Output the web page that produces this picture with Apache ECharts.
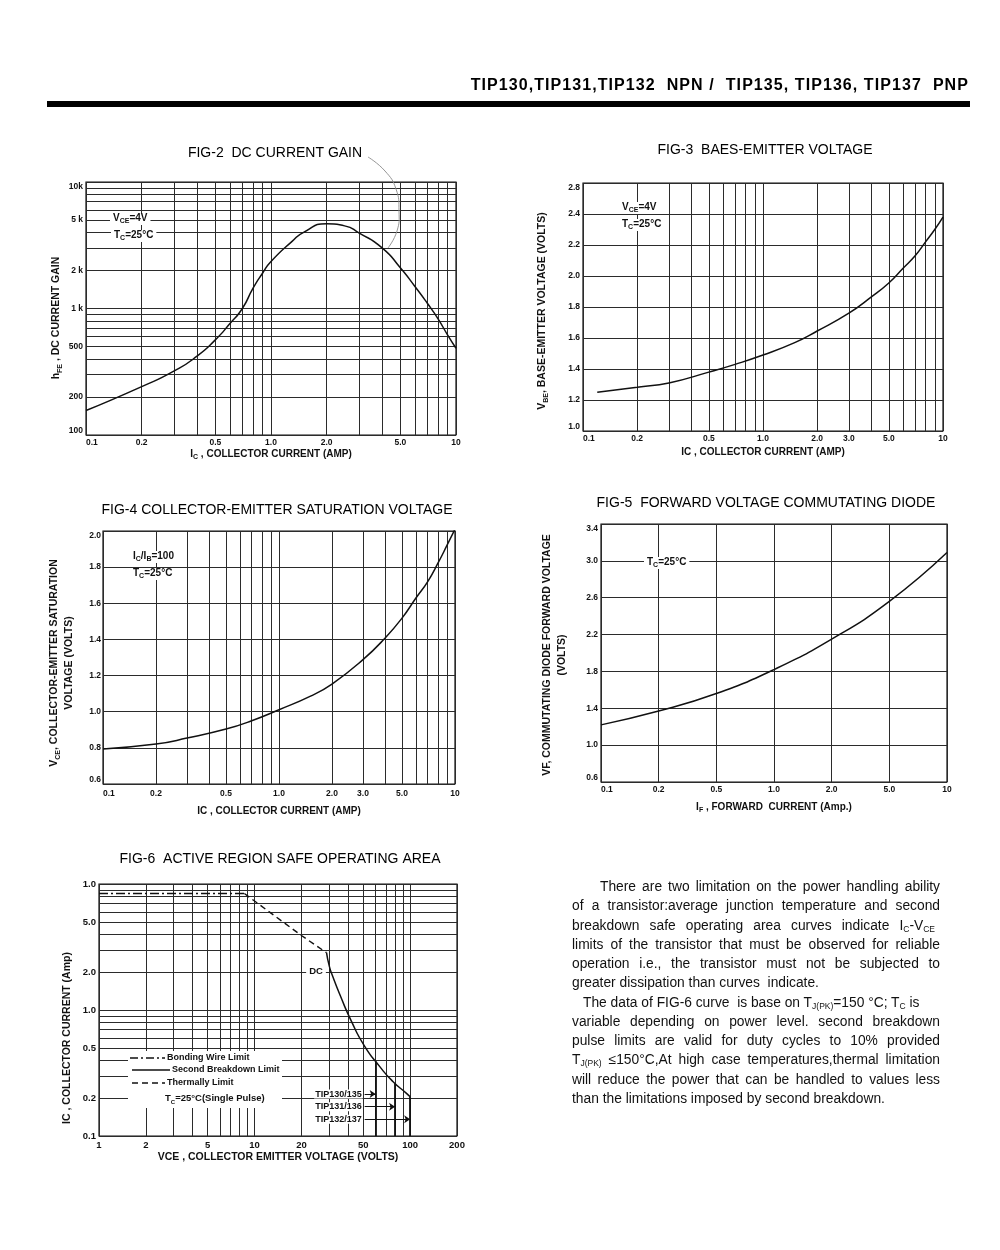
<!DOCTYPE html>
<html>
<head>
<meta charset="utf-8">
<script src="https://cdn.jsdelivr.net/npm/echarts@6/dist/echarts.min.js"></script>
<style>
html,body{margin:0;padding:0;background:#fff;}
#wrap{position:relative;width:1000px;height:1250px;overflow:hidden;background:#fff;}
#chart{position:absolute;left:0;top:0;width:1000px;height:1250px;}
#hdr{position:absolute;right:31px;top:75px;font:bold 16px 'Liberation Sans',Arial,sans-serif;letter-spacing:1.07px;white-space:pre;color:#000;line-height:20px;}
#bar{position:absolute;left:47px;top:101px;width:923px;height:6px;background:#000;}
#para{position:absolute;left:572px;top:877px;width:368px;font:13.8px 'Liberation Sans',Arial,sans-serif;line-height:19.25px;color:#111;}
#para div{height:19.25px;overflow:visible;}
.j{text-align:justify;text-align-last:justify;}
.l{text-align:left;white-space:pre;}
.sb{font-size:8.5px;vertical-align:-2px;}
</style>
</head>
<body>
<div id="wrap">
  <div id="chart"></div>
  <div id="hdr">TIP130,TIP131,TIP132  NPN /  TIP135, TIP136, TIP137  PNP</div>
  <div id="bar"></div>
  <div id="para">
    <div class="j" style="padding-left:28px">There are two limitation on the power handling ability</div>
    <div class="j">of a transistor:average junction temperature and second</div>
    <div class="j" style="padding-right:5px">breakdown safe operating area curves indicate I<span class="sb">C</span>-V<span class="sb">CE</span></div>
    <div class="j">limits of the transistor that must be observed for reliable</div>
    <div class="j">operation i.e., the transistor must not be subjected to</div>
    <div class="l">greater dissipation than curves  indicate.</div>
    <div class="l" style="padding-left:11px">The data of FIG-6 curve  is base on T<span class="sb">J(PK)</span>=150 °C; T<span class="sb">C</span> is</div>
    <div class="j">variable depending on power level. second breakdown</div>
    <div class="j">pulse limits are valid for duty cycles to 10% provided</div>
    <div class="j">T<span class="sb">J(PK)</span> ≤150°C,At high case temperatures,thermal limitation</div>
    <div class="j">will reduce the power that can be handled to values less</div>
    <div class="l">than the limitations imposed by second breakdown.</div>
  </div>
</div>
<script>
// ================= DATA =================
// FIG-2 DC current gain
const fig2Current = [0.1, 0.2, 0.3, 0.4, 0.5, 0.6, 0.7, 0.8, 0.9, 1.0, 1.3, 1.5, 2.0, 2.5, 3.0, 4.0, 5.0, 6.0, 7.0, 8.0, 9.0, 10];
const fig2Gain    = [156, 241, 321, 422, 565, 760, 1000, 1450, 1900, 2350, 3390, 3996, 4680, 4500, 3950, 3000, 2100, 1494, 1101, 828, 619, 485];
const fig2XTicks  = [0.1, 0.2, 0.5, 1, 2, 5, 10];
const fig2XLabels = ['0.1', '0.2', '0.5', '1.0', '2.0', '5.0', '10'];
const fig2YTicks  = [100, 200, 500, 1000, 2000, 5000, 10000];
const fig2YLabels = ['100', '200', '500', '1 k', '2 k', '5 k', '10k'];

// FIG-3 base-emitter voltage
const fig3Current = [0.12, 0.2, 0.3, 0.5, 0.7, 1.0, 1.5, 2.0, 3.0, 4.0, 5.0, 6.0, 7.0, 8.0, 9.0, 10];
const fig3Vbe     = [1.25, 1.283, 1.31, 1.38, 1.43, 1.49, 1.57, 1.645, 1.76, 1.865, 1.955, 2.05, 2.13, 2.22, 2.30, 2.38];
const fig3XTicks  = [0.1, 0.2, 0.5, 1, 2, 3, 5, 10];
const fig3XLabels = ['0.1', '0.2', '0.5', '1.0', '2.0', '3.0', '5.0', '10'];
const fig3YLabels = ['1.0', '1.2', '1.4', '1.6', '1.8', '2.0', '2.2', '2.4', '2.8'];

// FIG-4 collector-emitter saturation voltage
const fig4Current = [0.1, 0.2, 0.3, 0.5, 0.7, 1.0, 1.5, 2.0, 3.0, 4.0, 5.0, 6.0, 7.0, 8.0, 9.0, 10];
const fig4Vce     = [0.794, 0.821, 0.854, 0.904, 0.95, 1.011, 1.085, 1.153, 1.288, 1.407, 1.518, 1.629, 1.72, 1.822, 1.92, 2.01];
const fig4XTicks  = [0.1, 0.2, 0.5, 1, 2, 3, 5, 10];
const fig4XLabels = ['0.1', '0.2', '0.5', '1.0', '2.0', '3.0', '5.0', '10'];
const fig4YLabels = ['0.6', '0.8', '1.0', '1.2', '1.4', '1.6', '1.8', '2.0'];

// FIG-5 forward voltage commutating diode
const fig5Current = ['0.1', '0.2', '0.5', '1.0', '2.0', '5.0', '10'];
const fig5Vf      = [1.22, 1.37, 1.56, 1.82, 2.15, 2.56, 3.09];
const fig5YLabels = ['0.6', '1.0', '1.4', '1.8', '2.2', '2.6', '3.0', '3.4'];

// FIG-6 active region safe operating area
const fig6BondV    = [1, 8.6];
const fig6BondI    = [8.4, 8.4];
const fig6ThermV   = [8.6, 20, 29];
const fig6ThermI   = [8.4, 3.9, 2.85];
const fig6SecondV  = [29, 30.3, 31.9, 35.2, 41.8, 50.9, 63.6, 77.4, 94.3, 100];
const fig6SecondI  = [2.85, 2.2, 1.83, 1.34, 0.82, 0.517, 0.357, 0.271, 0.219, 0.205];
const fig6Parts    = ['TIP130/135', 'TIP131/136', 'TIP132/137'];
const fig6PartV    = [60, 80, 100];
const fig6PartTopI = [0.39, 0.262, 0.205];
const fig6ArrowI   = [0.215, 0.171, 0.136];
const fig6ArrowFromV = 51;
const fig6XTicks   = [1, 2, 5, 10, 20, 50, 100, 200];
const fig6XLabels  = ['1', '2', '5', '10', '20', '50', '100', '200'];
const fig6YTicks   = [0.1, 0.2, 0.5, 1, 2, 5, 10];
const fig6YLabels  = ['0.1', '0.2', '0.5', '1.0', '2.0', '5.0', '1.0'];

// ================= HELPERS =================
const FONT = "'Liberation Sans', Arial, Helvetica, sans-serif";
const INK = '#111';
const GRIDC = '#2b2b2b';

function logGrid(lo, hi) {
  const out = [];
  for (let e = Math.floor(Math.log10(lo)); e <= Math.ceil(Math.log10(hi)); e++) {
    for (let m = 1; m <= 9; m++) {
      const v = +(m * Math.pow(10, e)).toPrecision(6);
      if (v >= lo * (1 - 1e-9) && v <= hi * (1 + 1e-9)) out.push(v);
    }
  }
  return out;
}
function pick(vals, labels) {
  return function (v) {
    for (let i = 0; i < vals.length; i++) {
      if (Math.abs(vals[i] - v) <= 1e-6 * Math.abs(vals[i])) return labels[i];
    }
    return '';
  };
}
function zip(a, b) { return a.map((v, i) => [v, b[i]]); }
function lbl(size, margin, extra) {
  return Object.assign({
    show: true, color: INK, fontFamily: FONT, fontWeight: 'bold', fontSize: size,
    margin: margin, showMinLabel: true, showMaxLabel: true
  }, extra || {});
}
const splitStyle = { color: GRIDC, width: 1, type: 'solid' };
function logAxis(gi, min, max, tickVals, tickLabels, labelOpts, extra) {
  const gridVals = logGrid(min, max);
  return Object.assign({
    type: 'log', logBase: 10, gridIndex: gi, min: min, max: max,
    axisLine: { show: false },
    axisTick: { show: false, customValues: gridVals },
    axisLabel: Object.assign(labelOpts, { customValues: tickVals, formatter: pick(tickVals, tickLabels) }),
    splitLine: { show: true, customValues: gridVals, lineStyle: splitStyle },
    minorTick: { show: false }, minorSplitLine: { show: false }
  }, extra || {});
}
function linAxis(gi, min, max, step, labels, labelOpts) {
  return {
    type: 'value', gridIndex: gi, min: min, max: max, interval: step,
    axisLine: { show: false }, axisTick: { show: false },
    axisLabel: Object.assign(labelOpts, { formatter: v => labels[Math.round((v - min) / step)] || '' }),
    splitLine: { show: true, lineStyle: splitStyle }
  };
}
function nameRich(size) {
  return {
    t: { fontSize: size, fontFamily: FONT, fontWeight: 'bold', color: INK, verticalAlign: 'bottom', padding: [0, 0, 2, 0] },
    s: { fontSize: Math.round(size * 0.68), fontFamily: FONT, fontWeight: 'bold', color: INK, verticalAlign: 'bottom' }
  };
}
function gRich(size, weight) {
  return {
    t: { fontSize: size, fontFamily: FONT, fontWeight: weight, fill: INK, verticalAlign: 'bottom', padding: [0, 0, 2, 0] },
    s: { fontSize: Math.round(size * 0.68), fontFamily: FONT, fontWeight: weight, fill: INK, verticalAlign: 'bottom' }
  };
}
function xName(text, gap, size) {
  return {
    name: text, nameLocation: 'middle', nameGap: gap,
    nameTextStyle: { fontSize: size, fontFamily: FONT, fontWeight: 'bold', color: INK, rich: nameRich(size) }
  };
}
function gTitle(x, y, text) {
  return { type: 'text', x: x, y: y, z: 60, style: { text: text, fill: '#000', fontSize: 14, fontFamily: FONT, fontWeight: 'normal', align: 'center', verticalAlign: 'middle' } };
}
function gYName(x, y, text, size, lh) {
  return { type: 'text', x: x, y: y, rotation: Math.PI / 2, z: 60,
    style: { text: text, rich: gRich(size, 'bold'), fill: INK, fontSize: size, fontFamily: FONT, fontWeight: 'bold', align: 'center', verticalAlign: 'middle', lineHeight: lh || size + 3 } };
}
function gNote(x, y, text, size, align) {
  return { type: 'text', x: x, y: y, z: 70,
    style: { text: text, rich: gRich(size, 'bold'), fill: INK, fontSize: size, fontFamily: FONT, fontWeight: 'bold', align: align || 'left', verticalAlign: 'middle', backgroundColor: '#fff', padding: [0, 3, 0, 3] } };
}
function gLine(x1, y1, x2, y2, dash, w) {
  return { type: 'line', z: 70, shape: { x1: x1, y1: y1, x2: x2, y2: y2 }, style: { stroke: INK, lineWidth: w || 1.3, lineDash: dash || null } };
}

const curve = { color: INK, width: 1.5 };

// ================= OPTION =================
const option = {
  animation: false,
  backgroundColor: '#fff',
  grid: [
    { left: 86, top: 182, width: 370, height: 253 },
    { left: 583, top: 183, width: 360, height: 248 },
    { left: 103, top: 531, width: 352, height: 253 },
    { left: 601, top: 524, width: 346, height: 258 },
    { left: 99, top: 884, width: 358, height: 252 }
  ].map(g => Object.assign({ show: true, borderColor: INK, borderWidth: 1.2, backgroundColor: 'rgba(0,0,0,0)', containLabel: false, outerBoundsMode: 'none' }, g)),
  xAxis: [
    logAxis(0, 0.1, 10, fig2XTicks, fig2XLabels, lbl(8.5, 3, { alignMinLabel: 'left' }),
      xName('{t|I}{s|C}{t| , COLLECTOR CURRENT (AMP)}', 14, 10)),
    logAxis(1, 0.1, 10, fig3XTicks, fig3XLabels, lbl(8.5, 3, { alignMinLabel: 'left' }),
      xName('IC , COLLECTOR CURRENT (AMP)', 16, 10)),
    logAxis(2, 0.1, 10, fig4XTicks, fig4XLabels, lbl(8.5, 5, { alignMinLabel: 'left' }),
      xName('IC , COLLECTOR CURRENT (AMP)', 22, 10)),
    Object.assign({
      type: 'category', gridIndex: 3, data: fig5Current, boundaryGap: false,
      axisLine: { show: false }, axisTick: { show: false },
      axisLabel: lbl(8.5, 3, { interval: 0, alignMinLabel: 'left' }),
      splitLine: { show: true, interval: 0, lineStyle: splitStyle }
    }, xName('{t|I}{s|F}{t| , FORWARD  CURRENT (Amp.)}', 20, 10)),
    logAxis(4, 1, 200, fig6XTicks, fig6XLabels, lbl(9.5, 4),
      xName('VCE , COLLECTOR EMITTER VOLTAGE (VOLTS)', 16, 10.5))
  ],
  yAxis: [
    logAxis(0, 100, 10000, fig2YTicks, fig2YLabels, lbl(8.5, 3, { verticalAlignMinLabel: 'bottom', verticalAlignMaxLabel: 'top' })),
    linAxis(1, 1.0, 2.6, 0.2, fig3YLabels, lbl(8.5, 3, { verticalAlignMinLabel: 'bottom', verticalAlignMaxLabel: 'top' })),
    linAxis(2, 0.6, 2.0, 0.2, fig4YLabels, lbl(8.5, 2, { verticalAlignMinLabel: 'bottom', verticalAlignMaxLabel: 'top' })),
    linAxis(3, 0.6, 3.4, 0.4, fig5YLabels, lbl(8.5, 3, { verticalAlignMinLabel: 'bottom', verticalAlignMaxLabel: 'top' })),
    logAxis(4, 0.1, 10, fig6YTicks, fig6YLabels, lbl(9.5, 3))
  ],
  series: [
    { name: 'hFE', type: 'line', xAxisIndex: 0, yAxisIndex: 0, data: zip(fig2Current, fig2Gain),
      smooth: 0.6, symbol: 'none', lineStyle: curve, z: 5 },
    { name: 'VBE', type: 'line', xAxisIndex: 1, yAxisIndex: 1, data: zip(fig3Current, fig3Vbe),
      smooth: 0.5, symbol: 'none', lineStyle: curve, z: 5 },
    { name: 'VCE(sat)', type: 'line', xAxisIndex: 2, yAxisIndex: 2, data: zip(fig4Current, fig4Vce),
      smooth: 0.5, symbol: 'none', lineStyle: curve, z: 5 },
    { name: 'VF', type: 'line', xAxisIndex: 3, yAxisIndex: 3, data: fig5Vf,
      smooth: 0.5, symbol: 'none', lineStyle: curve, z: 5 },
    { name: 'Bonding Wire Limit', type: 'line', xAxisIndex: 4, yAxisIndex: 4, data: zip(fig6BondV, fig6BondI),
      symbol: 'none', lineStyle: { color: INK, width: 1.6, type: [9, 3, 2, 3] }, z: 5 },
    { name: 'Thermally Limit', type: 'line', xAxisIndex: 4, yAxisIndex: 4, data: zip(fig6ThermV, fig6ThermI),
      symbol: 'none', lineStyle: { color: INK, width: 1.4, type: [6, 4] }, z: 5,
      markLine: {
        silent: true, symbol: 'none', animation: false,
        label: { show: false },
        lineStyle: { color: INK, width: 1.8, type: 'solid' },
        data: fig6PartV.map((v, i) => [{ coord: [v, fig6PartTopI[i]] }, { coord: [v, 0.1] }])
      } },
    { name: 'Second Breakdown Limit', type: 'line', xAxisIndex: 4, yAxisIndex: 4, data: zip(fig6SecondV, fig6SecondI),
      smooth: 0.6, symbol: 'none', lineStyle: { color: INK, width: 1.5 }, z: 5,
      markLine: {
        silent: true, animation: false, symbol: ['none', 'arrow'], symbolSize: 6,
        lineStyle: { color: INK, width: 1, type: 'solid' },
        label: { show: true, position: 'start', distance: 2, formatter: p => p.name, color: INK, fontFamily: FONT, fontWeight: 'bold', fontSize: 9, backgroundColor: '#fff', padding: [0, 1] },
        data: fig6Parts.map((p, i) => [{ name: p, coord: [fig6ArrowFromV, fig6ArrowI[i]] }, { coord: [fig6PartV[i], fig6ArrowI[i]] }])
      } }
  ],
  graphic: [
    // titles
    gTitle(275, 153, 'FIG-2  DC CURRENT GAIN'),
    gTitle(765, 150, 'FIG-3  BAES-EMITTER VOLTAGE'),
    gTitle(277, 510, 'FIG-4 COLLECTOR-EMITTER SATURATION VOLTAGE'),
    gTitle(766, 503, 'FIG-5  FORWARD VOLTAGE COMMUTATING DIODE'),
    gTitle(280, 859, 'FIG-6  ACTIVE REGION SAFE OPERATING AREA'),
    // leader line of FIG-2 title
    { type: 'polyline', z: 60, shape: { points: [[368, 157], [385, 171], [396, 189], [399, 211], [397, 231], [388, 248]], smooth: 0.5 },
      style: { stroke: '#8a8a8a', lineWidth: 0.9, fill: null } },
    // y axis names
    gYName(57, 318, '{t|h}{s|FE}{t| , DC CURRENT GAIN}', 10.5),
    gYName(543, 311, '{t|V}{s|BE}{t|, BASE-EMITTER VOLTAGE (VOLTS)}', 10.5),
    gYName(62, 663, '{t|V}{s|CE}{t|, COLLECTOR-EMITTER SATURATION}\n{t|VOLTAGE (VOLTS)}', 10.5, 15),
    gYName(555, 655, '{t|VF, COMMUTATING DIODE FORWARD VOLTAGE}\n{t|(VOLTS)}', 10.5, 15),
    gYName(68, 1038, '{t|IC , COLLECTOR CURRENT (Amp)}', 10.5),
    // condition notes
    gNote(110, 219, '{t|V}{s|CE}{t|=4V}', 10),
    gNote(111, 236, '{t|T}{s|C}{t|=25°C}', 10),
    gNote(619, 208, '{t|V}{s|CE}{t|=4V}', 10),
    gNote(619, 225, '{t|T}{s|C}{t|=25°C}', 10),
    gNote(130, 557, '{t|I}{s|C}{t|/I}{s|B}{t|=100}', 10),
    gNote(130, 574, '{t|T}{s|C}{t|=25°C}', 10),
    gNote(644, 563, '{t|T}{s|C}{t|=25°C}', 10),
    gNote(316, 972, '{t|DC}', 9.5, 'center'),
    // FIG-6 legend box
    { type: 'rect', z: 65, shape: { x: 128, y: 1051, width: 154, height: 57 }, style: { fill: '#fff' } },
    gLine(130, 1058, 165, 1058, [8, 3, 2, 3], 1.3),
    gLine(132, 1070, 170, 1070, null, 1.3),
    gLine(132, 1083, 165, 1083, [6, 4], 1.3),
    { type: 'text', x: 167, y: 1058, z: 70, style: { text: 'Bonding Wire Limit', fill: INK, fontSize: 9, fontFamily: FONT, fontWeight: 'bold', align: 'left', verticalAlign: 'middle' } },
    { type: 'text', x: 172, y: 1070, z: 70, style: { text: 'Second Breakdown Limit', fill: INK, fontSize: 9, fontFamily: FONT, fontWeight: 'bold', align: 'left', verticalAlign: 'middle' } },
    { type: 'text', x: 167, y: 1083, z: 70, style: { text: 'Thermally Limit', fill: INK, fontSize: 9, fontFamily: FONT, fontWeight: 'bold', align: 'left', verticalAlign: 'middle' } },
    gNote(162, 1099, '{t|T}{s|C}{t|=25°C(Single Pulse)}', 9.5)
  ]
};

const chart = echarts.init(document.getElementById('chart'), null, { renderer: 'canvas', width: 1000, height: 1250 });
chart.setOption(option);
</script>
</body>
</html>
